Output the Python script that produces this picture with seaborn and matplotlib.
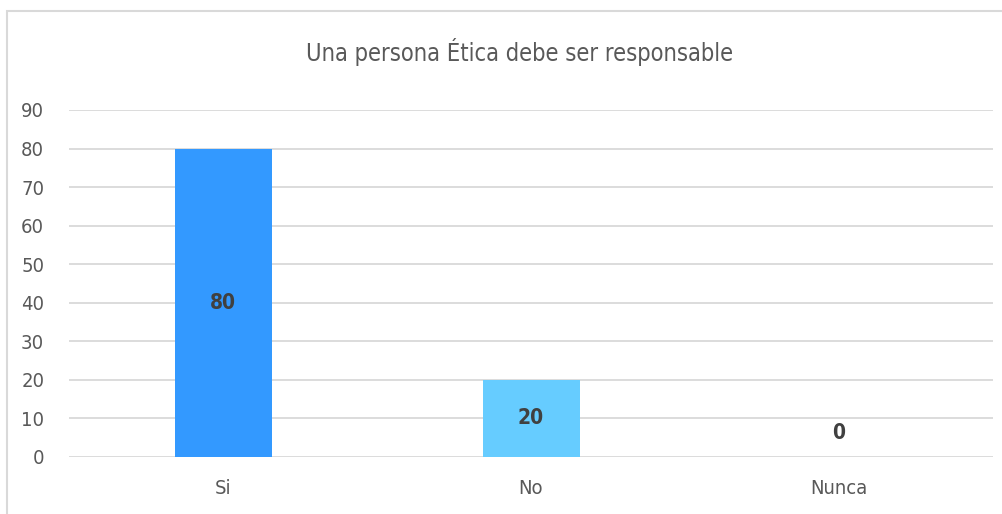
import matplotlib.pyplot as plt
import seaborn as sns
import pandas as pd
from matplotlib.patches import Rectangle

# data
categorias = ["Si", "No", "Nunca"]
valores = [80, 20, 0]
colores = ["#3399FF", "#66CCFF", "#99DDFF"]
titulo = "Una persona Ética debe ser responsable"

sns.set_theme(style="white")
plt.rcParams['font.family'] = ['DejaVu Sans']
plt.rcParams['font.stretch'] = 'condensed'

df = pd.DataFrame({"categoria": categorias, "valor": valores})

fig = plt.figure(figsize=(10.02, 5.14), dpi=100)
ax = fig.add_axes([0.069, 0.111, 0.922, 0.675])

# outer chart frame (light gray)
fig.patches.append(Rectangle((7 / 1002, -0.01), 1.0, (514 - 11) / 514 + 0.01,
                             transform=fig.transFigure, fill=False,
                             edgecolor="#D9D9D9", linewidth=1.5))

sns.barplot(data=df, x="categoria", y="valor", hue="categoria",
            palette=colores, width=0.315, legend=False, ax=ax,
            saturation=1, linewidth=0, zorder=3)

ax.set_ylim(0, 90)
ax.set_xlim(-0.5, 2.5)
ax.set_yticks(range(0, 91, 10))
ax.yaxis.grid(True, color="#D9D9D9", linewidth=1.3, zorder=0)
ax.set_axisbelow(True)
for s in ax.spines.values():
    s.set_visible(False)
ax.set_xlabel("")
ax.set_ylabel("")
ax.tick_params(axis="y", length=0, pad=18, labelsize=14.5, labelcolor="#595959")
ax.tick_params(axis="x", length=0, pad=16, labelsize=14.5, labelcolor="#595959")

# value labels
for i, v in enumerate(valores):
    if v > 0:
        ax.text(i, v / 2, str(v), ha="center", va="center", fontsize=15,
                fontweight="bold", color="#404040", zorder=4)
    else:
        ax.annotate(str(v), (i, 0), xytext=(0, 24), textcoords="offset pixels",
                    ha="center", va="center", fontsize=15, fontweight="bold",
                    color="#404040")

fig.text(0.519, 0.898, titulo, ha="center", va="center", fontsize=17,
         color="#595959")

fig.savefig("out.png", dpi=100)
